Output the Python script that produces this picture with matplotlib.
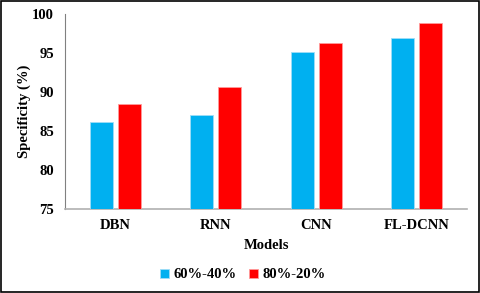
import numpy as np
import matplotlib.pyplot as plt
from matplotlib.patches import Rectangle

models = ["DBN", "RNN", "CNN", "FL-DCNN"]
split_60_40 = [86.1, 87.0, 95.1, 96.9]
split_80_20 = [88.5, 90.7, 96.3, 98.8]
series_names = ["60%-40%", "80%-20%"]
yticks = [75, 80, 85, 90, 95, 100]

plt.rcParams['font.family'] = ['Liberation Serif', 'DejaVu Serif']
plt.rcParams['font.weight'] = 'bold'

fig = plt.figure(figsize=(4.8, 2.93), dpi=100)
ax = fig.add_axes([65/480, 1 - 209/293, 402/480, 195/293])

x = np.arange(len(models))
w = 0.23
ax.bar(x - 0.14, split_60_40, w, color='#00B0F0', edgecolor='#9FDDF7', linewidth=0.6,
       label=series_names[0], zorder=3)
ax.bar(x + 0.14, split_80_20, w, color='#FF0000', edgecolor='#FF9A9A', linewidth=0.6,
       label=series_names[1], zorder=3)

ax.set_ylim(75, 100)
ax.set_xlim(-0.5, 3.5)
ax.set_yticks(yticks)
ax.set_xticks(x)
ax.set_xticklabels(models)
ax.tick_params(length=0, labelsize=10.5, pad=7)
ax.tick_params(axis='y', pad=8)
for s in ['top', 'right']:
    ax.spines[s].set_visible(False)
ax.spines['left'].set_color('#808080')
ax.spines['bottom'].set_color('#B0B0B0')
ax.spines['left'].set_linewidth(0.8)
ax.spines['bottom'].set_linewidth(1.2)

ax.set_ylabel("Specificity (%)", fontsize=10.5, fontweight='bold', labelpad=1)
ax.set_xlabel("Models", fontsize=10.5, fontweight='bold', labelpad=5)

ax.legend(loc='center', bbox_to_anchor=(0.506, 1 - 275/293), bbox_transform=fig.transFigure,
          ncol=2, frameon=False, fontsize=10.5, handlelength=0.6, handleheight=0.6,
          handletextpad=0.3, columnspacing=0.9)

fig.patches.append(Rectangle((0.002, 0.003), 0.996, 0.994, transform=fig.transFigure,
                             fill=False, edgecolor='black', linewidth=1.2))

fig.savefig("out.png", dpi=100)
